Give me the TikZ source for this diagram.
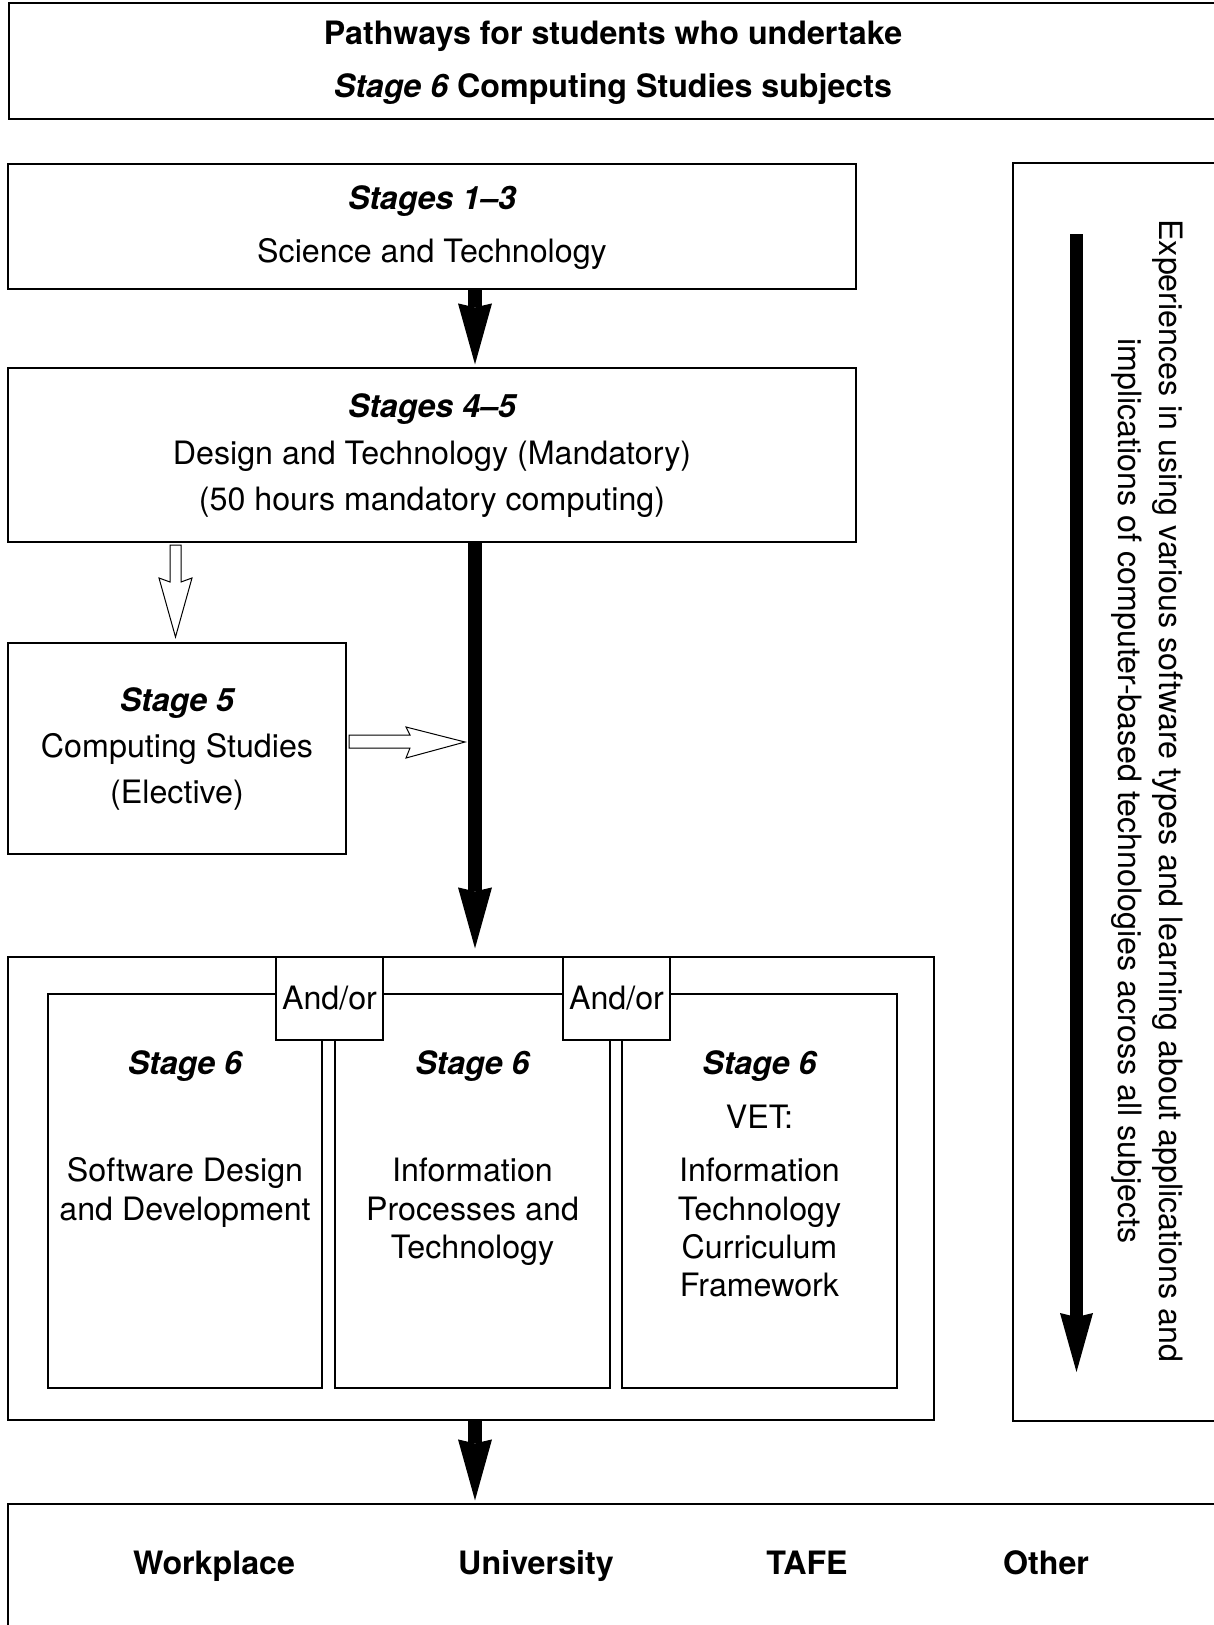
\documentclass[tikz,border=0pt]{standalone}
\usepackage{fontspec}
\setmainfont{TeX Gyre Heros}
\usetikzlibrary{arrows.meta,calc}
\begin{document}
\begin{tikzpicture}[x=1pt,y=-1pt,
  box/.style={draw, line width=1.2pt, rectangle, inner sep=0pt},
  lbl/.style={anchor=base, inner sep=0pt, font=\fontsize{32.2}{38}\selectfont},
  bigarrow/.style={line width=14pt, -{Stealth[length=61pt,width=34pt,inset=4pt,line width=0pt]}},
  openarrow/.style={draw, line width=1pt, fill=white, line join=miter}]
\path[use as bounding box, clip] (0,0) rectangle (1214,1625);

% boxes
\node[box, minimum width=1221pt, minimum height=116pt] (title) at (619.5,61) {};
\node[box, minimum width=848pt, minimum height=125pt] (s13) at (432,226.5) {};
\node[box, minimum width=848pt, minimum height=174pt] (s45) at (432,455) {};
\node[box, minimum width=338pt, minimum height=211pt] (s5) at (177,748.5) {};
\node[box, minimum width=926pt, minimum height=463pt] (outer) at (471,1188.5) {};
\node[box, minimum width=274pt, minimum height=394pt] (ia) at (185,1191) {};
\node[box, minimum width=275pt, minimum height=394pt] (ib) at (472.5,1191) {};
\node[box, minimum width=275pt, minimum height=394pt] (ic) at (759.5,1191) {};
\node[box, fill=white, minimum width=107pt, minimum height=83pt, font=\fontsize{32.2}{38}\selectfont] (ao1) at (329.5,998.5) {And/or};
\node[box, fill=white, minimum width=107pt, minimum height=83pt, font=\fontsize{32.2}{38}\selectfont] (ao2) at (616.5,998.5) {And/or};
\node[box, minimum width=217pt, minimum height=1258pt] (rb) at (1121.5,792) {};
\node[box, minimum width=1222pt, minimum height=136pt] (bot) at (619,1572) {};

% title
\node[lbl] (t1) at (613,44) {\bfseries Pathways for students who undertake};
\node[lbl] (t2) at (613,97) {{\bfseries\itshape Stage 6} \bfseries Computing Studies subjects};

% stages 1-3
\node[lbl] (a1) at (432,209) {\bfseries\itshape Stages 1--3};
\node[lbl] (a2) at (432,262) {Science and Technology};

% stages 4-5
\node[lbl] (b1) at (432,417) {\bfseries\itshape Stages 4--5};
\node[lbl] (b2) at (432,464) {Design and Technology (Mandatory)};
\node[lbl] (b3) at (432,510) {(50 hours mandatory computing)};

% stage 5
\node[lbl] (c1) at (177,711) {\bfseries\itshape Stage 5};
\node[lbl] (c2) at (177,757) {Computing Studies};
\node[lbl] (c3) at (177,803) {(Elective)};

% stage 6 boxes
\node[lbl] (d1) at (185,1074) {\bfseries\itshape Stage 6};
\node[lbl] (d2) at (185,1181) {Software Design};
\node[lbl] (d3) at (185,1220) {and Development};

\node[lbl] (e1) at (472.5,1074) {\bfseries\itshape Stage 6};
\node[lbl] (e2) at (472.5,1181) {Information};
\node[lbl] (e3) at (472.5,1220) {Processes and};
\node[lbl] (e4) at (472.5,1258) {Technology};

\node[lbl] (f1) at (759.5,1074) {\bfseries\itshape Stage 6};
\node[lbl] (f2) at (759.5,1128) {VET:};
\node[lbl] (f3) at (759.5,1181) {Information};
\node[lbl] (f4) at (759.5,1220) {Technology};
\node[lbl] (f5) at (759.5,1258) {Curriculum};
\node[lbl] (f6) at (759.5,1296) {Framework};

% bottom
\node[lbl] (g1) at (214,1574) {\bfseries Workplace};
\node[lbl] (g2) at (536,1574) {\bfseries University};
\node[lbl] (g3) at (807,1574) {\bfseries TAFE};
\node[lbl] (g4) at (1046,1574) {\bfseries Other};

% rotated text
\node[lbl, rotate=-90] (r1) at (1159,791) {Experiences in using various software types and learning about applications and};
\node[lbl, rotate=-90] (r2) at (1118,791) {implications of computer-based technologies across all subjects};

% thick arrows
\coordinate (ax) at (475,0);
\draw[bigarrow] (s13.south -| ax) -- ($(ax |- s45.north)+(0,-3)$);
\draw[bigarrow] (s45.south -| ax) -- ($(ax |- outer.north)+(0,-8)$);
\draw[bigarrow] (outer.south -| ax) -- ($(ax |- bot.north)+(0,-3)$);

\coordinate (rt) at (1076.5,234);
\coordinate (rbm) at (1076.5,1372);
\draw[line width=13pt, -{Stealth[length=59pt,width=33pt,inset=4pt,line width=0pt]}] (rt) -- (rbm);

% open arrows
\path[openarrow] (170,545) -- (170,582) -- (159,578) -- (175.5,637) -- (192,578) -- (181,582) -- (181,545) -- cycle;
\path[openarrow] (349,735) -- (410,735) -- (406,727) -- (465,742) -- (406,758) -- (410,748) -- (349,748) -- cycle;
\end{tikzpicture}
\end{document}
